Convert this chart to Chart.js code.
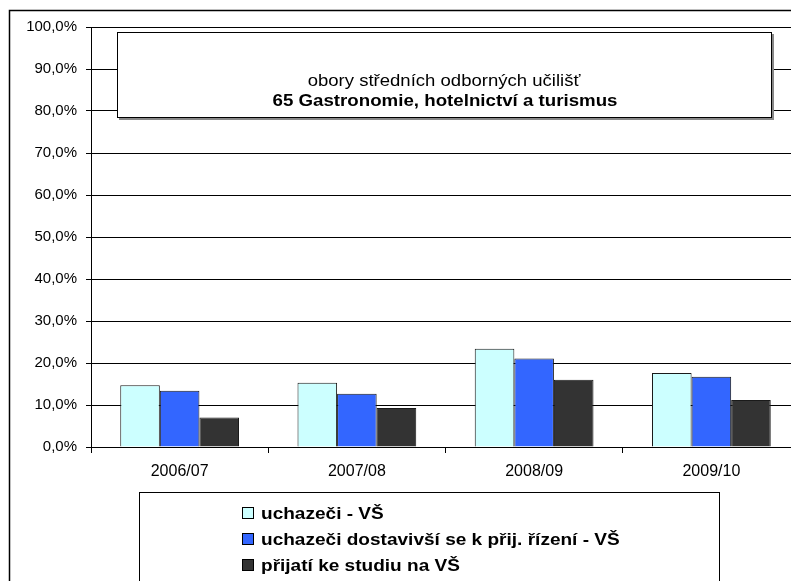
<!DOCTYPE html>
<html>
<head>
<meta charset="utf-8">
<script src="https://cdn.jsdelivr.net/npm/chart.js@4/dist/chart.umd.min.js"></script>
<style>
html, body { margin: 0; padding: 0; background: #fff; overflow: hidden; }
#obal { width: 791px; height: 581px; overflow: hidden; }
canvas { display: block; }
</style>
</head>
<body>
<div id="obal"><canvas id="grafica" width="800" height="581"></canvas></div>
<script>
// Data grafu
const roky = ['2006/07', '2007/08', '2008/09', '2009/10'];
const uchazeci = [14.7, 15.3, 23.4, 17.6];
const dostavivsi = [13.4, 12.7, 21.1, 16.7];
const prijati = [7.0, 9.3, 16.0, 11.2];
const nazvyRad = ['uchazeči - VŠ', 'uchazeči dostavivší se k přij. řízení - VŠ', 'přijatí ke studiu na VŠ'];
const nadpis = ['obory středních odborných učilišť', '65 Gastronomie, hotelnictví a turismus'];

const pismo = 'Arial, "Liberation Sans", sans-serif';

// text trochu roztazeny do sirky (jako v puvodnim grafu z Excelu)
function napis(ctx, text, x, y, sx) {
    ctx.save();
    ctx.translate(x, y);
    ctx.scale(sx, 1);
    ctx.fillText(text, 0, 0);
    ctx.restore();
}

// Ramecek kolem celeho grafu, nadpis v boxu a legenda dole
const ramecky = {
    id: 'ramecky',
    beforeDraw(chart) {
        const ctx = chart.ctx;
        ctx.save();
        ctx.fillStyle = '#fff';
        ctx.fillRect(0, 0, chart.width, chart.height);
        ctx.strokeStyle = '#000';
        ctx.lineWidth = 1.5;
        ctx.strokeRect(9.5, 10.5, chart.width + 20, chart.height + 20);
        ctx.restore();
    },
    afterDraw(chart) {
        const ctx = chart.ctx;
        ctx.save();

        // box s nadpisem
        ctx.fillStyle = '#888';
        ctx.fillRect(119, 34, 655, 86);
        ctx.fillStyle = '#fff';
        ctx.fillRect(117, 32, 655, 86);
        ctx.strokeStyle = '#000';
        ctx.lineWidth = 1;
        ctx.strokeRect(117.5, 32.5, 654, 85);
        ctx.fillStyle = '#000';
        ctx.textAlign = 'center';
        ctx.textBaseline = 'middle';
        ctx.font = '17px ' + pismo;
        napis(ctx, nadpis[0], 444, 81, 1.09);
        ctx.font = 'bold 17px ' + pismo;
        napis(ctx, nadpis[1], 445, 101, 1.1);

        // legenda
        ctx.fillStyle = '#fff';
        ctx.fillRect(139.5, 492.5, 580, 100);
        ctx.strokeStyle = '#000';
        ctx.strokeRect(139.5, 492.5, 580, 100);
        ctx.textAlign = 'left';
        ctx.font = 'bold 17px ' + pismo;
        chart.data.datasets.forEach(function (ds, i) {
            const y = 513 + i * 26;
            ctx.fillStyle = ds.backgroundColor;
            ctx.fillRect(242.5, y - 5.5, 11, 11);
            ctx.strokeStyle = '#000';
            ctx.strokeRect(242.5, y - 5.5, 11, 11);
            ctx.fillStyle = '#000';
            napis(ctx, ds.label, 261, y + 1, 1.12);
        });

        ctx.restore();
    }
};

const ctx = document.getElementById('grafica').getContext('2d');
const myChart = new Chart(ctx, {
    type: 'bar',
    data: {
        labels: roky,
        datasets: [
            { label: nazvyRad[0], data: uchazeci, backgroundColor: '#CCFFFF' },
            { label: nazvyRad[1], data: dostavivsi, backgroundColor: '#3366FF' },
            { label: nazvyRad[2], data: prijati, backgroundColor: '#333333' }
        ]
    },
    options: {
        responsive: false,
        animation: false,
        devicePixelRatio: 1,
        layout: { padding: { top: 27, left: 0, right: 0, bottom: 0 } },
        datasets: {
            bar: {
                categoryPercentage: 0.67,
                barPercentage: 1.0,
                borderColor: '#1a1a1a',
                borderWidth: 1
            }
        },
        plugins: {
            legend: { display: false },
            tooltip: { enabled: false }
        },
        scales: {
            x: {
                offset: true,
                grid: {
                    offset: true,
                    drawOnChartArea: false,
                    tickLength: 6,
                    color: '#000'
                },
                border: { color: '#000', width: 1 },
                ticks: {
                    color: '#000',
                    padding: 9,
                    maxRotation: 0,
                    font: { family: pismo, size: 16 }
                },
                afterFit(s) { s.height = 134; }
            },
            y: {
                min: 0,
                max: 100,
                ticks: {
                    stepSize: 10,
                    color: '#000',
                    padding: 9,
                    font: { family: pismo, size: 15 },
                    callback: v => v.toFixed(1).replace('.', ',') + '%'
                },
                grid: { color: '#000', tickLength: 5 },
                border: { color: '#000', width: 1 },
                afterFit(s) { s.width = 91; }
            }
        }
    },
    plugins: [ramecky]
});
</script>
</body>
</html>
